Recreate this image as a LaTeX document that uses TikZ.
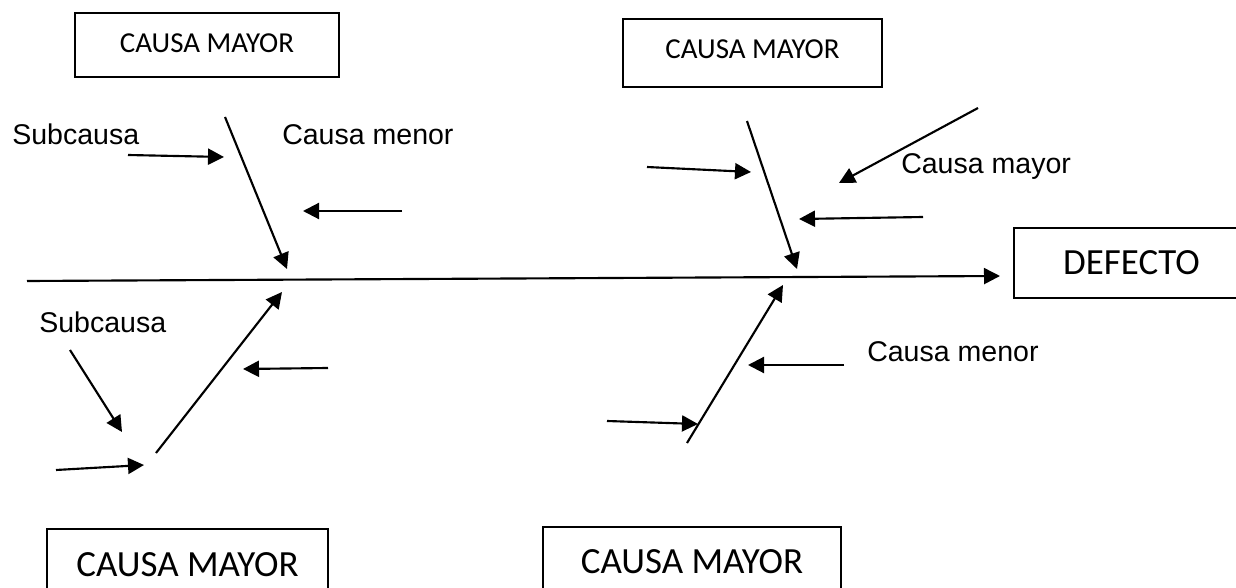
\documentclass[tikz,border=0pt]{standalone}
\usepackage{fontspec}
\setmainfont{Liberation Sans}
\newfontfamily\boxfont{Carlito}
\usetikzlibrary{arrows.meta}
\begin{document}
\begin{tikzpicture}[x=0.75pt,y=-0.75pt,
  bone/.style={line width=1.6pt,-{Triangle[length=12pt,width=12pt]}},
  twig/.style={line width=1.6pt,-{Triangle[length=12pt,width=12pt]}},
  causebox/.style={draw,line width=1.5pt,inner sep=0pt,
    font=\boxfont\fontsize{21.7}{26}\selectfont},
  bigbox/.style={causebox,font=\boxfont\fontsize{27.7}{33}\selectfont},
  lbl/.style={inner sep=0pt,anchor=base west,font=\fontsize{21.4}{26}\selectfont}]
\useasboundingbox (0,0) rectangle (1236,588);
\clip (0,0) rectangle (1236,588);

% boxes
\node[causebox,minimum width=198pt,minimum height=48pt,text depth=2.2pt] (cTL) at (207,45) {CAUSA MAYOR};
\node[causebox,minimum width=194.25pt,minimum height=51pt,text depth=6pt] (cTR) at (752.5,53) {CAUSA MAYOR};
\node[bigbox,minimum width=210.75pt,minimum height=54pt] (cBL) at (187.5,565) {CAUSA MAYOR};
\node[bigbox,minimum width=223.5pt,minimum height=52.5pt] (cBR) at (692,562) {CAUSA MAYOR};
\node[bigbox,minimum width=176.25pt,minimum height=52.5pt] (def) at (1131.5,263) {DEFECTO};

% labels
\node[lbl] (sub1) at (12,145) {Subcausa};
\node[lbl] (men1) at (282,145) {Causa menor};
\node[lbl] (may1) at (901,174) {Causa mayor};
\node[lbl] (sub2) at (39,332) {Subcausa};
\node[lbl] (men2) at (867,361) {Causa menor};

% spine
\coordinate (s0) at (27,281);
\coordinate (s1) at (1000,276);
\draw[bone] (s0) -- (s1);

% upper left branch
\coordinate (a0) at (225,117);  \coordinate (a1) at (287,269);
\coordinate (a2) at (128,155);  \coordinate (a3) at (224,157);
\coordinate (a4) at (402,211);  \coordinate (a5) at (303,211);
\draw[bone] (a0) -- (a1);
\draw[twig] (a2) -- (a3);
\draw[twig] (a4) -- (a5);

% upper right branch
\coordinate (b0) at (747,121);  \coordinate (b1) at (797,269);
\coordinate (b2) at (647,167);  \coordinate (b3) at (751,172);
\coordinate (b4) at (978,108);  \coordinate (b5) at (839,183);
\coordinate (b6) at (923,217);  \coordinate (b7) at (799,219);
\draw[bone] (b0) -- (b1);
\draw[twig] (b2) -- (b3);
\draw[twig] (b4) -- (b5);
\draw[twig] (b6) -- (b7);

% lower left branch
\coordinate (c0) at (156,453);  \coordinate (c1) at (282,292);
\coordinate (c2) at (328,368);  \coordinate (c3) at (243,369);
\coordinate (c4) at (70,350);   \coordinate (c5) at (122,432);
\coordinate (c6) at (56,470);   \coordinate (c7) at (144,465);
\draw[bone] (c0) -- (c1);
\draw[twig] (c2) -- (c3);
\draw[twig] (c4) -- (c5);
\draw[twig] (c6) -- (c7);

% lower right branch
\coordinate (d0) at (687,443);  \coordinate (d1) at (783,285);
\coordinate (d2) at (844,365);  \coordinate (d3) at (748,365);
\coordinate (d4) at (607,421);  \coordinate (d5) at (698,424);
\draw[bone] (d0) -- (d1);
\draw[twig] (d2) -- (d3);
\draw[twig] (d4) -- (d5);
\end{tikzpicture}
\end{document}
